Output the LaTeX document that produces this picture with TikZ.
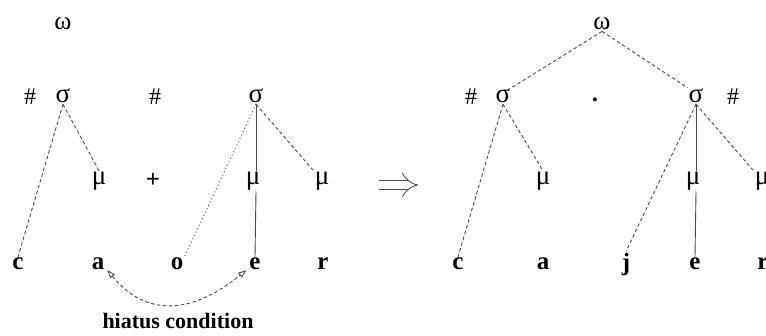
\documentclass[tikz,border=0pt]{standalone}
\usepackage{fontspec}
\setmainfont{Liberation Serif}
\usetikzlibrary{arrows.meta}
\begin{document}
\begin{tikzpicture}[x=1pt,y=-1pt,
  sym/.style={inner sep=1pt, font=\fontsize{27}{29}\selectfont},
  hs/.style={inner sep=1pt, font=\fontsize{24}{26}\selectfont},
  seg/.style={inner sep=1pt, font=\fontsize{25}{27}\selectfont\bfseries},
  top/.style={inner sep=1pt, font=\fontsize{26}{28}\selectfont},
  lab/.style={inner sep=1pt, font=\fontsize{22}{24}\selectfont\bfseries},
  dl/.style={draw=black!70, line width=0.9pt, dash pattern=on 3.5pt off 2.5pt},
  dt/.style={draw=black!60, line width=0.9pt, dash pattern=on 1.2pt off 2.5pt},
  sl/.style={draw=black!70, line width=0.9pt}]
\clip (0,0) rectangle (766,336);
\fill[white] (0,0) rectangle (766,336);
% left
\node[top] (w1) at (63,24) {ω};
\node[hs] (h1) at (30,97) {\#};
\node[sym] (s1) at (63,96) {σ};
\node[hs] (h2) at (155,97) {\#};
\node[sym] (s2) at (256,96) {σ};
\node[sym] (m1) at (99,181) {μ};
\node[seg] (pl) at (153,180) {+};
\node[sym] (m2) at (253,181) {μ};
\node[sym] (m3) at (322,181) {μ};
\node[seg] (c1) at (18,264) {c};
\node[seg] (a1) at (98,264) {a};
\node[seg] (o1) at (177,264) {o};
\node[seg] (e1) at (255,264) {e};
\node[seg] (r1) at (323,264) {r};
\node[lab] (hc) at (178,321) {hiatus condition};
\draw[dl] (s1.south) -- (c1.north);
\draw[dl] (s1.south) -- (m1.north);
\draw[dt] (s2.south) -- (o1.north east);
\draw[sl] (s2.south) -- ([xshift=3pt]m2.north);
\draw[dl] (s2.south) -- (m3.north west);
\draw[sl] ([xshift=3pt]m2.south) -- (e1.north);
\draw[dl, {Triangle[open,length=8pt,width=6pt]}-{Triangle[open,length=8pt,width=6pt]}]
  ([xshift=2pt,yshift=1pt]a1.south east) .. controls (145,316) and (190,316) .. ([xshift=-2pt,yshift=1pt]e1.south west);
% arrow
\coordinate (ar1) at (379,185);
\coordinate (ar2) at (418,185);
\draw[black!70, line width=0.9pt, double, double distance=8pt, -{Implies}] (ar1) -- (ar2);
% right
\node[top] (w2) at (602,24) {ω};
\node[hs] (h3) at (471,97) {\#};
\node[sym] (s3) at (503,96) {σ};
\node[seg] (dot) at (595,100) {.};
\node[sym] (s4) at (696,96) {σ};
\node[hs] (h4) at (733,97) {\#};
\node[sym] (m4) at (543,181) {μ};
\node[sym] (m5) at (693,181) {μ};
\node[sym] (m6) at (762,181) {μ};
\node[seg] (c2) at (458,264) {c};
\node[seg] (a2) at (543,264) {a};
\node[seg] (j2) at (626,264) {j};
\node[seg] (e2) at (695,264) {e};
\node[seg] (r2) at (763,264) {r};
\draw[dl] (w2.south) -- (s3.north east);
\draw[dl] (w2.south) -- (s4.north west);
\draw[dl] (s3.south) -- (c2.north);
\draw[dl] (s3.south) -- (m4.north);
\draw[dl] (s4.south) -- (j2.north);
\draw[sl] (s4.south) -- ([xshift=3pt]m5.north);
\draw[dl] (s4.south) -- (m6.north west);
\draw[sl] ([xshift=3pt]m5.south) -- (e2.north);
\end{tikzpicture}
\end{document}
